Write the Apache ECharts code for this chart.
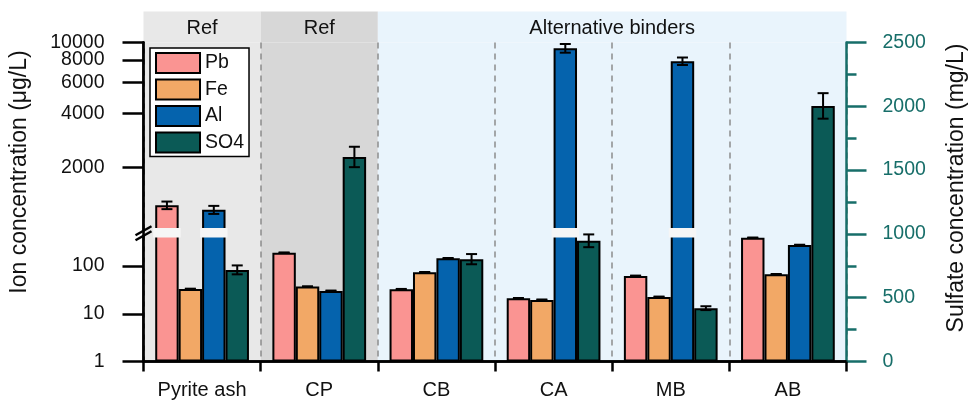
<!DOCTYPE html>
<html>
<head>
<meta charset="utf-8">
<script src="https://cdn.jsdelivr.net/npm/echarts@6/dist/echarts.min.js"></script>
<style>
  html, body { margin: 0; padding: 0; background: #fff; }
  #chart { width: 970px; height: 402px; }
</style>
</head>
<body>
<div id="chart"></div>
<script>
// ---- data ----
const categories = ['Pyrite ash', 'CP', 'CB', 'CA', 'MB', 'AB'];
const groupLabels = ['Ref', 'Ref', 'Alternative binders'];
const groupStart = [0, 1, 2];
const groupEnd = [0, 1, 5];

const pb = [1230, 190, 32.5, 21, 62, 390];
const fe = [33, 37, 74, 19.5, 22.5, 67];
const al = [1160, 30, 145, 9300, 7870, 275];
const so4 = [718, 1603, 802, 946, 418, 2003];

const pbErr = [60, 2, 0.6, 0.4, 1, 5];
const feErr = [0.5, 0.6, 1, 0.4, 0.4, 1];
const alErr = [60, 0.6, 2, 520, 380, 4];
const so4Err = [35, 80, 40, 50, 15, 100];

const upperTicks = [2000, 4000, 6000, 8000];
const upperTopTick = [10000];
const lowerTicks = [1, 10, 100];

// ---- layout / style ----
const FONT = '"Liberation Sans", Arial, sans-serif';
const TEAL = '#176e69';
const COLORS = { Pb: '#fa9492', Fe: '#f2a866', Al: '#0563ad', SO4: '#0b5a56' };
const GROUP_COLORS = ['#e8e8e8', '#d7d7d7', '#e9f4fc'];
const PLOT_L = 143.5, PLOT_R = 123.5, PLOT_TOP = 42.5, PLOT_BOTTOM = 40.5;
const UPPER_H = 187, BREAK_GAP = 6.5;
const LOWER_TOP = PLOT_TOP + UPPER_H + BREAK_GAP;
const UPPER_MIN = 900, UPPER_MAX = 10010;
const LOWER_MIN = 1, LOWER_MAX = 425;
const SLOTS = 4, CAT_GAP = 0.2;

// axis indices per panel
const HEAD = { x: 0, y: 0 };
const FULL = { x: 1, yLeft: 1, yRight: 2 };
const UP = { x: 3, y: 3 };
const LOW = { x: 4, y: 4 };

const chart = echarts.init(document.getElementById('chart'), null, { renderer: 'canvas' });

function slotCenter(api, i, v, slot) {
  const band = api.size([1, 0], [i, v])[0];
  const barW = band * (1 - CAT_GAP) / SLOTS;
  return { cx: api.coord([i, v])[0] - band * (1 - CAT_GAP) / 2 + (slot + 0.5) * barW, barW: barW };
}

// background panels (header band and plot area)
function bgSeries(xIdx, yIdx, withText) {
  return {
    type: 'custom', xAxisIndex: xIdx, yAxisIndex: yIdx, z: 0, silent: true, clip: false,
    encode: { x: 0, y: 1 },
    data: groupLabels.map((g, k) => [groupStart[k], 0.5, groupEnd[k], k]),
    renderItem(params, api) {
      const s = api.value(0), e = api.value(2), k = api.value(3);
      const band = api.size([1, 0], [s, 0.5])[0];
      const x0 = api.coord([s, 0.5])[0] - band / 2;
      const x1 = api.coord([e, 0.5])[0] + band / 2;
      const cs = params.coordSys;
      const children = [{
        type: 'rect', shape: { x: x0, y: cs.y, width: x1 - x0, height: cs.height },
        style: { fill: GROUP_COLORS[k] }
      }];
      if (withText) {
        children.push({
          type: 'text', x: (x0 + x1) / 2, y: cs.y + cs.height / 2 + 1,
          style: { text: groupLabels[k], fill: '#111', fontSize: 20, fontFamily: FONT,
                   align: 'center', verticalAlign: 'middle' }
        });
      }
      return { type: 'group', children: children };
    }
  };
}

function barSeries(name, data, xIdx, yIdx, seriesName) {
  return {
    type: 'bar', name: seriesName || name, xAxisIndex: xIdx, yAxisIndex: yIdx,
    data: data, barGap: 0, barCategoryGap: '20%', z: 2, silent: true,
    itemStyle: { color: COLORS[name] || 'transparent', borderColor: '#000', borderWidth: 2 }
  };
}

function errorSeries(values, errs, slot, xIdx, yIdx, pick) {
  const data = [];
  values.forEach((v, i) => { if (errs[i] > 0 && pick(v)) data.push([i, v, errs[i]]); });
  return {
    type: 'custom', xAxisIndex: xIdx, yAxisIndex: yIdx, z: 4, silent: true, clip: false,
    encode: { x: 0, y: 1 }, data: data,
    renderItem(params, api) {
      const i = api.value(0), v = api.value(1), e = api.value(2);
      const cx = slotCenter(api, i, v, slot).cx;
      const yHi = api.coord([i, v + e])[1];
      const yLo = api.coord([i, v - e])[1];
      const cap = 5.5;
      const st = { stroke: '#000', lineWidth: 2 };
      return {
        type: 'group', children: [
          { type: 'line', shape: { x1: cx, y1: yHi, x2: cx, y2: yLo }, style: st },
          { type: 'line', shape: { x1: cx - cap, y1: yHi, x2: cx + cap, y2: yHi }, style: st },
          { type: 'line', shape: { x1: cx - cap, y1: yLo, x2: cx + cap, y2: yLo }, style: st }
        ]
      };
    }
  };
}

// light gap across bars that continue past the axis break
const ionSets = [pb, fe, al];
const stripeData = [];
categories.forEach((c, i) => {
  ionSets.forEach((arr, k) => { if (arr[i] > LOWER_MAX) stripeData.push([i, LOWER_MAX, k]); });
});

const stripeSeries = {
  type: 'custom', xAxisIndex: LOW.x, yAxisIndex: LOW.y, z: 3, silent: true, clip: false,
  encode: { x: 0, y: 1 }, data: stripeData,
  renderItem(params, api) {
    const i = api.value(0), k = api.value(2);
    const sc = slotCenter(api, i, LOWER_MAX, k);
    const top = api.coord([i, LOWER_MAX])[1];
    return {
      type: 'rect',
      shape: { x: sc.cx - sc.barW / 2 - 2, y: top - BREAK_GAP - 1.5, width: sc.barW + 4, height: BREAK_GAP + 3 },
      style: { fill: '#f6f6f6' }
    };
  }
};

// "//" break symbol on the left axis
const breakMarkSeries = {
  type: 'custom', xAxisIndex: LOW.x, yAxisIndex: LOW.y, z: 6, silent: true, clip: false,
  encode: { x: 0, y: 1 }, data: [[0, LOWER_MAX]],
  renderItem(params, api) {
    const gx = params.coordSys.x;
    const yc = api.coord([0, LOWER_MAX])[1] - BREAK_GAP / 2;
    const st = { stroke: '#000', lineWidth: 2.5 };
    return {
      type: 'group', children: [
        { type: 'line', shape: { x1: gx - 8, y1: yc + 2.5, x2: gx + 8, y2: yc - 6.5 }, style: st },
        { type: 'line', shape: { x1: gx - 8, y1: yc + 7.5, x2: gx + 8, y2: yc - 1.5 }, style: st }
      ]
    };
  }
};

const dash = categories.map(() => '-');
const logLabel = { fontSize: 19.5, color: '#111', fontFamily: FONT, margin: 39,
                   showMinLabel: true, showMaxLabel: true,
                   formatter: v => String(Math.round(v)) };

function logAxis(gridIndex, min, max, ticks, showLine) {
  return {
    type: 'log', logBase: 10, gridIndex: gridIndex, min: min, max: max, position: 'left',
    axisLine: { show: showLine, lineStyle: { color: '#000', width: 2.5 } },
    axisTick: { show: true, length: 21, customValues: ticks, lineStyle: { color: '#000', width: 2.5 } },
    axisLabel: Object.assign({ customValues: ticks }, logLabel),
    splitLine: { show: false }, minorTick: { show: false }
  };
}

const option = {
  animation: false,
  backgroundColor: '#ffffff',
  textStyle: { fontFamily: FONT },
  grid: [
    { left: PLOT_L, right: PLOT_R, top: 11.5, height: PLOT_TOP - 11.5 },          // header band
    { left: PLOT_L, right: PLOT_R, top: PLOT_TOP, bottom: PLOT_BOTTOM },          // full plot
    { left: PLOT_L, right: PLOT_R, top: PLOT_TOP, height: UPPER_H },              // upper log part
    { left: PLOT_L, right: PLOT_R, top: LOWER_TOP, bottom: PLOT_BOTTOM }          // lower log part
  ],
  xAxis: [
    { type: 'category', gridIndex: 0, data: categories, show: false },
    {
      type: 'category', gridIndex: 1, data: categories, position: 'bottom', z: 1,
      axisLine: { lineStyle: { color: '#000', width: 2.5 } },
      axisTick: { show: true, length: 10, lineStyle: { color: '#000', width: 2.5 } },
      axisLabel: { fontSize: 20, color: '#111', margin: 19, fontFamily: FONT },
      splitLine: { show: true, lineStyle: { color: '#8c8c8c', width: 1.5, type: [6, 5] } }
    },
    {
      type: 'category', gridIndex: 1, data: categories, position: 'top', z: 1,
      axisLine: { lineStyle: { color: '#000', width: 2.5 } },
      axisTick: { show: false }, axisLabel: { show: false }
    },
    { type: 'category', gridIndex: 2, data: categories, show: false },
    { type: 'category', gridIndex: 3, data: categories, show: false }
  ],
  yAxis: [
    { type: 'value', gridIndex: 0, min: 0, max: 1, show: false },
    {
      type: 'value', gridIndex: 1, min: 0, max: 1, position: 'left', z: 1,
      axisLine: { show: true, lineStyle: { color: '#000', width: 2.5 } },
      axisTick: { show: false }, axisLabel: { show: false }, splitLine: { show: false }
    },
    {
      type: 'value', gridIndex: 1, min: 0, max: 2500, interval: 500, position: 'right', z: 1,
      axisLine: { show: true, lineStyle: { color: TEAL, width: 2.5 } },
      axisTick: { show: true, length: 20, lineStyle: { color: TEAL, width: 2.5 } },
      minorTick: { show: true, splitNumber: 2, length: 10, lineStyle: { color: TEAL, width: 2.5 } },
      axisLabel: { fontSize: 19.5, color: TEAL, margin: 36, fontFamily: FONT, formatter: v => String(v) },
      splitLine: { show: false }, minorSplitLine: { show: false }
    },
    logAxis(2, UPPER_MIN, UPPER_MAX, upperTicks, true),
    logAxis(3, LOWER_MIN, LOWER_MAX, lowerTicks, true),
    // the top tick of the upper segment sits on its own axis so it is not dropped for crowding
    logAxis(2, UPPER_MIN, UPPER_MAX, upperTopTick, false)
  ],
  legend: {
    data: ['Pb', 'Fe', 'Al', 'SO4'],
    orient: 'vertical', left: 150, top: 48,
    backgroundColor: '#ffffff', borderColor: '#000', borderWidth: 1.5,
    padding: [4, 5, 3, 5], itemGap: 4.5, itemWidth: 44, itemHeight: 20,
    icon: 'rect',
    textStyle: { fontSize: 19.5, color: '#111', fontFamily: FONT }
  },
  graphic: [
    {
      type: 'text', x: 20, y: 172, rotation: Math.PI / 2,
      style: { text: 'Ion concentration (μg/L)', fontSize: 23, fontFamily: FONT, fill: '#111',
               align: 'center', verticalAlign: 'middle' }
    },
    {
      type: 'text', x: 957, y: 188, rotation: Math.PI / 2,
      style: { text: 'Sulfate concentration (mg/L)', fontSize: 23, fontFamily: FONT, fill: '#111',
               align: 'center', verticalAlign: 'middle' }
    }
  ],
  series: [
    bgSeries(HEAD.x, HEAD.y, true),
    bgSeries(FULL.x, FULL.yLeft, false),

    // lower log segment
    barSeries('Pb', pb, LOW.x, LOW.y),
    barSeries('Fe', fe, LOW.x, LOW.y),
    barSeries('Al', al, LOW.x, LOW.y),
    barSeries('slot4', dash, LOW.x, LOW.y, '_lowerSlot4'),

    // upper log segment
    barSeries('Pb', pb, UP.x, UP.y),
    barSeries('Fe', fe, UP.x, UP.y),
    barSeries('Al', al, UP.x, UP.y),
    barSeries('slot4', dash, UP.x, UP.y, '_upperSlot4'),

    // sulfate on the right axis
    barSeries('slot1', dash, FULL.x, FULL.yRight, '_s1'),
    barSeries('slot2', dash, FULL.x, FULL.yRight, '_s2'),
    barSeries('slot3', dash, FULL.x, FULL.yRight, '_s3'),
    barSeries('SO4', so4, FULL.x, FULL.yRight),

    stripeSeries,
    breakMarkSeries,

    errorSeries(pb, pbErr, 0, UP.x, UP.y, v => v > LOWER_MAX),
    errorSeries(al, alErr, 2, UP.x, UP.y, v => v > LOWER_MAX),
    errorSeries(pb, pbErr, 0, LOW.x, LOW.y, v => v <= LOWER_MAX),
    errorSeries(fe, feErr, 1, LOW.x, LOW.y, v => v <= LOWER_MAX),
    errorSeries(al, alErr, 2, LOW.x, LOW.y, v => v <= LOWER_MAX),
    errorSeries(so4, so4Err, 3, FULL.x, FULL.yRight, () => true)
  ]
};

chart.setOption(option);
</script>
</body>
</html>
